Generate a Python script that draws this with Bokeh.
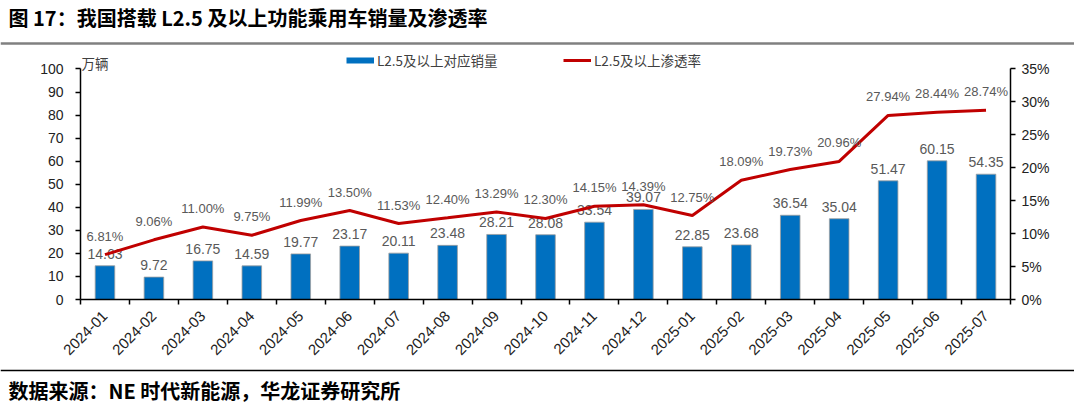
import numpy as np
from bokeh.plotting import figure
from bokeh.models import (Range1d, LinearAxis, FixedTicker, PrintfTickFormatter,
                          Legend, LegendItem, Label, Span, ColumnDataSource)
from bokeh.layouts import column
from bokeh.embed import file_html
from bokeh.resources import INLINE
from bokeh.core.properties import value

# ---------------- data ----------------
months = ["2024-01", "2024-02", "2024-03", "2024-04", "2024-05", "2024-06",
          "2024-07", "2024-08", "2024-09", "2024-10", "2024-11", "2024-12",
          "2025-01", "2025-02", "2025-03", "2025-04", "2025-05", "2025-06", "2025-07"]
sales = [14.63, 9.72, 16.75, 14.59, 19.77, 23.17, 20.11, 23.48, 28.21, 28.08,
         33.54, 39.07, 22.85, 23.68, 36.54, 35.04, 51.47, 60.15, 54.35]
rate = [6.81, 9.06, 11.00, 9.75, 11.99, 13.50, 11.53, 12.40, 13.29, 12.30,
        14.15, 14.39, 12.75, 18.09, 19.73, 20.96, 27.94, 28.44, 28.74]
left_ticks = list(range(0, 101, 10))
right_ticks = list(range(0, 36, 5))

title_text = "图 17：我国搭载 L2.5 及以上功能乘用车销量及渗透率"
source_text = "数据来源：NE 时代新能源，华龙证券研究所"
unit_text = "万辆"
bar_name = "L2.5及以上对应销量"
line_name = "L2.5及以上渗透率"

# ---------------- styling ----------------
W = 1074
BLUE = "#0070C0"
RED = "#C00000"
CJK = "Noto Sans CJK SC"
LAT = "Liberation Sans"

n = len(months)
xc = np.arange(n) + 0.5
src = ColumnDataSource(dict(
    x=xc, sales=sales, rate=rate,
    sales_lbl=[f"{v:.2f}" for v in sales],
    rate_lbl=[f"{v:.2f}%" for v in rate],
))

YMAX = 100
PMAX = 35
EXTRA = 1.08

# ---------------- title strip ----------------
TH = 45
tf = figure(width=W, height=TH, x_range=Range1d(0, W), y_range=Range1d(0, TH),
            toolbar_location=None, output_backend="svg", min_border=0,
            x_axis_type=None, y_axis_type=None, frame_align=False)
tf.outline_line_color = None
tf.add_layout(Label(x=8, y=TH - 17, text=title_text, text_baseline="middle",
                    text_font=CJK, text_font_style="bold", text_font_size="20px",
                    text_color="black"))
tf.add_layout(Span(location=2, dimension="width", line_color="#808080", line_width=2.5))

# ---------------- main chart ----------------
p = figure(width=W, height=317, x_range=Range1d(0, n), y_range=Range1d(0, YMAX * EXTRA),
           toolbar_location=None, output_backend="svg",
           min_border_left=80, min_border_right=64, min_border_top=5, min_border_bottom=63,
           x_axis_type=None, y_axis_type=None, frame_align=False)
p.outline_line_color = None
p.extra_y_ranges = {"pct": Range1d(0, PMAX * EXTRA)}

xaxis = LinearAxis(
    ticker=FixedTicker(ticks=list(xc), minor_ticks=list(range(n + 1))),
    major_label_overrides={float(x): m for x, m in zip(xc, months)},
    major_tick_line_color=None, major_tick_out=0, major_tick_in=0,
    minor_tick_out=5, minor_tick_in=0, minor_tick_line_color="black", minor_tick_line_width=1.5,
    major_label_orientation=np.pi / 4, major_label_standoff=9,
    axis_line_color="black", axis_line_width=1.5,
    major_label_text_font=LAT, major_label_text_font_size="15px", major_label_text_color="#222222",
)
p.add_layout(xaxis, "below")

yl = LinearAxis(
    ticker=FixedTicker(ticks=left_ticks), bounds=(0, YMAX),
    major_tick_out=5, major_tick_in=0, major_tick_line_color="black", major_tick_line_width=1.5,
    minor_tick_line_color=None, axis_line_color="black", axis_line_width=1.5,
    major_label_standoff=12,
    major_label_text_font=LAT, major_label_text_font_size="14px", major_label_text_color="#222222",
)
p.add_layout(yl, "left")

yr = LinearAxis(
    y_range_name="pct", ticker=FixedTicker(ticks=right_ticks), bounds=(0, PMAX),
    formatter=PrintfTickFormatter(format="%d%%"),
    major_tick_out=5, major_tick_in=0, major_tick_line_color="black", major_tick_line_width=1.5,
    minor_tick_line_color=None, axis_line_color="black", axis_line_width=1.5,
    major_label_standoff=6,
    major_label_text_font=LAT, major_label_text_font_size="14px", major_label_text_color="#222222",
)
p.add_layout(yr, "right")

bars = p.vbar(x="x", top="sales", width=0.4, source=src,
              fill_color=BLUE, line_color="#9E9E9E", line_width=0.8)
p.text(x="x", y="sales", text="sales_lbl", source=src, text_align="center",
       text_baseline="bottom", y_offset=-7, text_font=value(LAT),
       text_font_size="14px", text_color="#595959")
ln = p.line(x="x", y="rate", source=src, y_range_name="pct",
            line_color=RED, line_width=3)
p.text(x="x", y="rate", text="rate_lbl", source=src, y_range_name="pct",
       text_align="center", text_baseline="bottom", y_offset=-11,
       text_font=value(LAT), text_font_size="13px", text_color="#595959")

# legend swatch: a thick line renderer that draws nothing (NaN), used only for the legend
swatch = p.line(x=[0.0], y=[np.nan], line_color=BLUE, line_width=6)

leg_common = dict(orientation="horizontal", glyph_width=28, glyph_height=16,
                  label_height=16, padding=0, margin=0, spacing=0, label_standoff=3,
                  border_line_color=None, background_fill_alpha=0,
                  label_text_font=CJK, label_text_font_size="13.5px",
                  label_text_color="#404040")
leg1 = Legend(items=[LegendItem(label=bar_name, renderers=[swatch])],
              location=(266, 229), **leg_common)
leg2 = Legend(items=[LegendItem(label=line_name, renderers=[ln])],
              location=(483, 229), **leg_common)
p.add_layout(leg1)
p.add_layout(leg2)

p.add_layout(Label(x=0, y=YMAX, x_offset=1, y_offset=6, text=unit_text,
                   text_baseline="middle", text_font=CJK, text_font_size="13.5px",
                   text_color="#404040"))

# ---------------- source strip ----------------
FH = 46
ff = figure(width=W, height=FH, x_range=Range1d(0, W), y_range=Range1d(0, FH),
            toolbar_location=None, output_backend="svg", min_border=0,
            x_axis_type=None, y_axis_type=None, frame_align=False)
ff.outline_line_color = None
ff.add_layout(Span(location=FH - 8, dimension="width", line_color="black", line_width=1.5))
ff.add_layout(Label(x=8, y=18, text=source_text, text_baseline="middle",
                    text_font=CJK, text_font_style="bold", text_font_size="20px",
                    text_color="black"))

layout = column(tf, p, ff, spacing=0)
open("out.html", "w").write(file_html(layout, INLINE))
